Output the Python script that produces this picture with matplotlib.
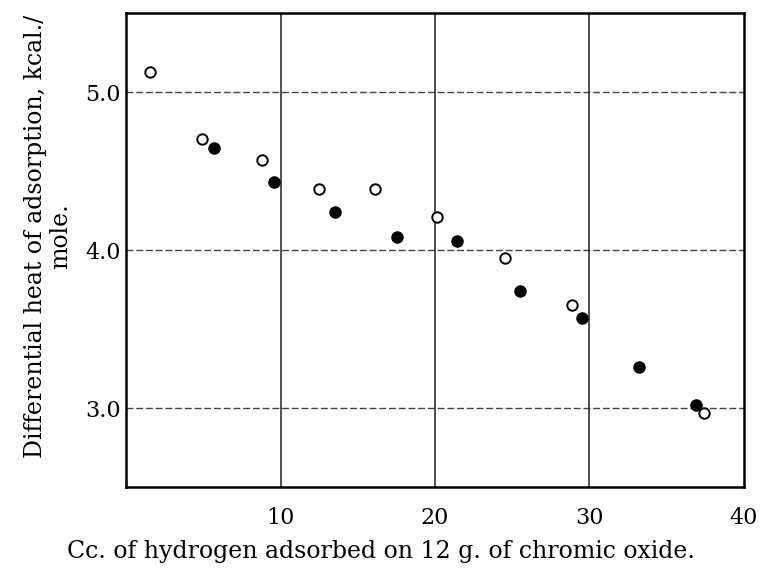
import matplotlib.pyplot as plt
import numpy as np

# open circles
open_x = [1.5, 4.9, 8.8, 12.5, 16.1, 20.1, 24.5, 28.9, 37.4]
open_y = [5.13, 4.70, 4.57, 4.385, 4.385, 4.21, 3.95, 3.65, 2.97]
# filled circles
filled_x = [5.7, 9.55, 13.5, 17.5, 21.4, 25.5, 29.5, 33.2, 36.9]
filled_y = [4.645, 4.43, 4.24, 4.08, 4.06, 3.74, 3.57, 3.26, 3.02]

x_ticks = [10, 20, 30, 40]
y_ticks = [3.0, 4.0, 5.0]

plt.rcParams['font.family'] = ['DejaVu Serif']

fig = plt.figure(figsize=(7.62, 5.69), dpi=100)
ax = fig.add_axes([0.166, 0.144, 0.810, 0.833])

for y in y_ticks:
    ax.axhline(y, color='#444444', lw=1.0, ls=(0, (5, 2)), zorder=1)
for x in x_ticks[:-1]:
    ax.axvline(x, color='#222222', lw=1.1, zorder=1)

ax.plot(filled_x, filled_y, 'o', color='black', ms=8, zorder=3)
ax.plot(open_x, open_y, 'o', mfc='white', mec='black', mew=1.4, ms=7.5, zorder=4)

ax.set_xlim(0, 40)
ax.set_ylim(2.5, 5.5)
ax.set_xticks(x_ticks)
ax.set_yticks(y_ticks)
ax.set_yticklabels(['3.0', '4.0', '5.0'])
ax.tick_params(length=0, labelsize=16, pad=14)
ax.tick_params(axis='y', pad=4)
for s in ax.spines.values():
    s.set_linewidth(1.8)

fig.text(0.5, 0.03, 'Cc. of hydrogen adsorbed on 12 g. of chromic oxide.',
         fontsize=17, ha='center', va='center')
fig.text(0.063, 0.585, 'Differential heat of adsorption, kcal./\nmole.', fontsize=17,
         rotation=90, ha='center', va='center', linespacing=1.1, multialignment='center')

fig.savefig('out.png', dpi=100)
